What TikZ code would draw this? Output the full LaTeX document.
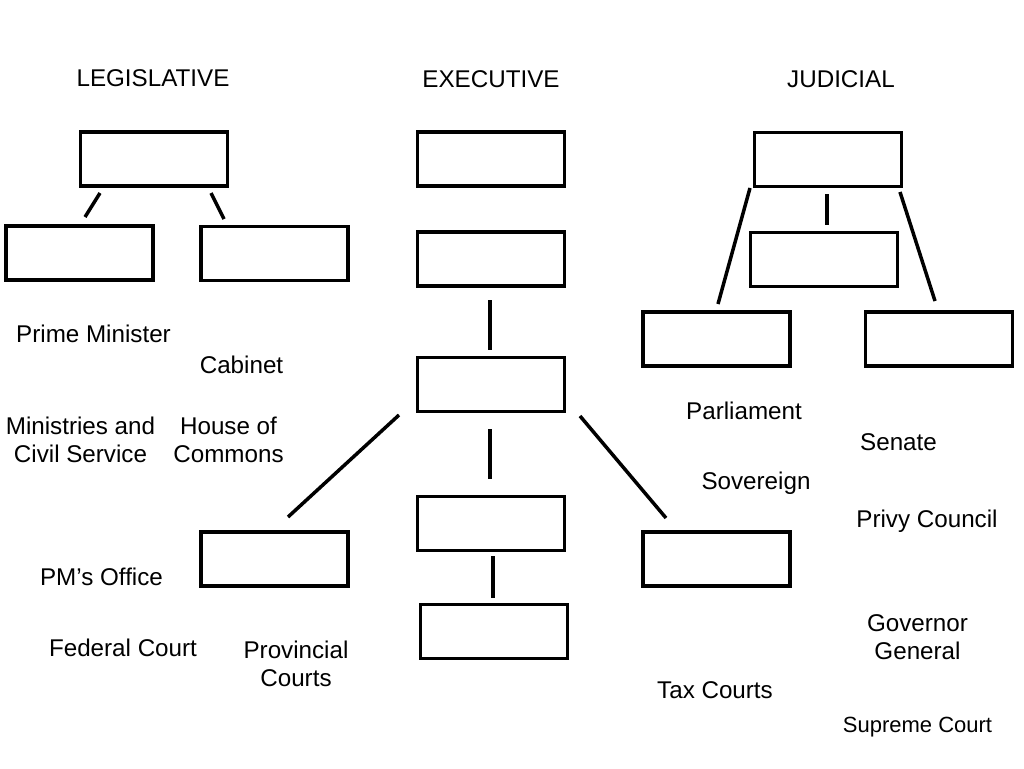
\documentclass[tikz,border=0pt]{standalone}
\usepackage{fontspec}
\setmainfont{Liberation Sans}
\begin{document}
\begin{tikzpicture}[x=1pt,y=-1pt,
  blank/.style={draw=black,line width=3.2pt,minimum width=147pt,minimum height=54pt,inner sep=0pt},
  lbl/.style={inner sep=0pt,font=\fontsize{24.2}{28}\selectfont,anchor=base},
  lbl2/.style={inner sep=0pt,font=\fontsize{24.2}{28}\selectfont,align=center,anchor=center},
  conn/.style={line width=3.5pt}]
\useasboundingbox (0,0) rectangle (1024,768);
\fill[white] (0,0) rectangle (1024,768);
% headings
\node[lbl] (hl) at (153,86.5) {LEGISLATIVE};
\node[lbl] (he) at (491,87.5) {EXECUTIVE};
\node[lbl] (hj) at (841,87.5) {JUDICIAL};
% boxes
\node[blank] (ltop) at (154,159) {};
\node[blank] (lleft) at (79.5,253) {};
\node[blank] (lright) at (274.5,253.5) {};
\node[blank] (e1) at (491,159) {};
\node[blank] (e2) at (491,259) {};
\node[blank] (e3) at (491,384.5) {};
\node[blank] (e4) at (491,523.5) {};
\node[blank] (e5) at (494,631.5) {};
\node[blank] (jtop) at (828,159.5) {};
\node[blank] (jmid) at (824,259.5) {};
\node[blank] (jleft) at (716.5,339) {};
\node[blank] (jright) at (939,339) {};
\node[blank] (bleft) at (274.5,559) {};
\node[blank] (bright) at (716.5,559) {};
% connector end points
\coordinate (c1a) at (100,193); \coordinate (c1b) at (85,217);
\coordinate (c2a) at (211,193); \coordinate (c2b) at (224,219);
\coordinate (c3a) at (490,300); \coordinate (c3b) at (490,350);
\coordinate (c4a) at (490,429); \coordinate (c4b) at (490,479);
\coordinate (c5a) at (493,556); \coordinate (c5b) at (493,598);
\coordinate (c6a) at (399,415); \coordinate (c6b) at (288,517);
\coordinate (c7a) at (580,416); \coordinate (c7b) at (666,518);
\coordinate (c8a) at (750,188); \coordinate (c8b) at (718,304);
\coordinate (c9a) at (827,194); \coordinate (c9b) at (827,225);
\coordinate (c10a) at (900,192); \coordinate (c10b) at (935,301);
\foreach \i in {1,...,10} \draw[conn] (c\i a) -- (c\i b);
% labels
\node[lbl] (pm) at (93.5,342.5) {Prime Minister};
\node[lbl] (cab) at (241.5,373.5) {Cabinet};
\node[lbl2] (min) at (80.5,440) {Ministries and\\Civil Service};
\node[lbl2] (hoc) at (228.5,440) {House of\\Commons};
\node[lbl] (par) at (744,419.5) {Parliament};
\node[lbl] (sen) at (898.5,450.5) {Senate};
\node[lbl] (sov) at (756,489.5) {Sovereign};
\node[lbl] (pc) at (927,527.5) {Privy Council};
\node[lbl] (pmo) at (101.5,585.5) {PM’s Office};
\node[lbl] (fc) at (123,656.5) {Federal Court};
\node[lbl2] (prov) at (296,664) {Provincial\\Courts};
\node[lbl2] (gg) at (917.5,637) {Governor\\General};
\node[lbl] (tax) at (715,698.5) {Tax Courts};
\node[lbl,font=\fontsize{22}{26}\selectfont] (sc) at (917.5,732.5) {Supreme Court};
\end{tikzpicture}
\end{document}
